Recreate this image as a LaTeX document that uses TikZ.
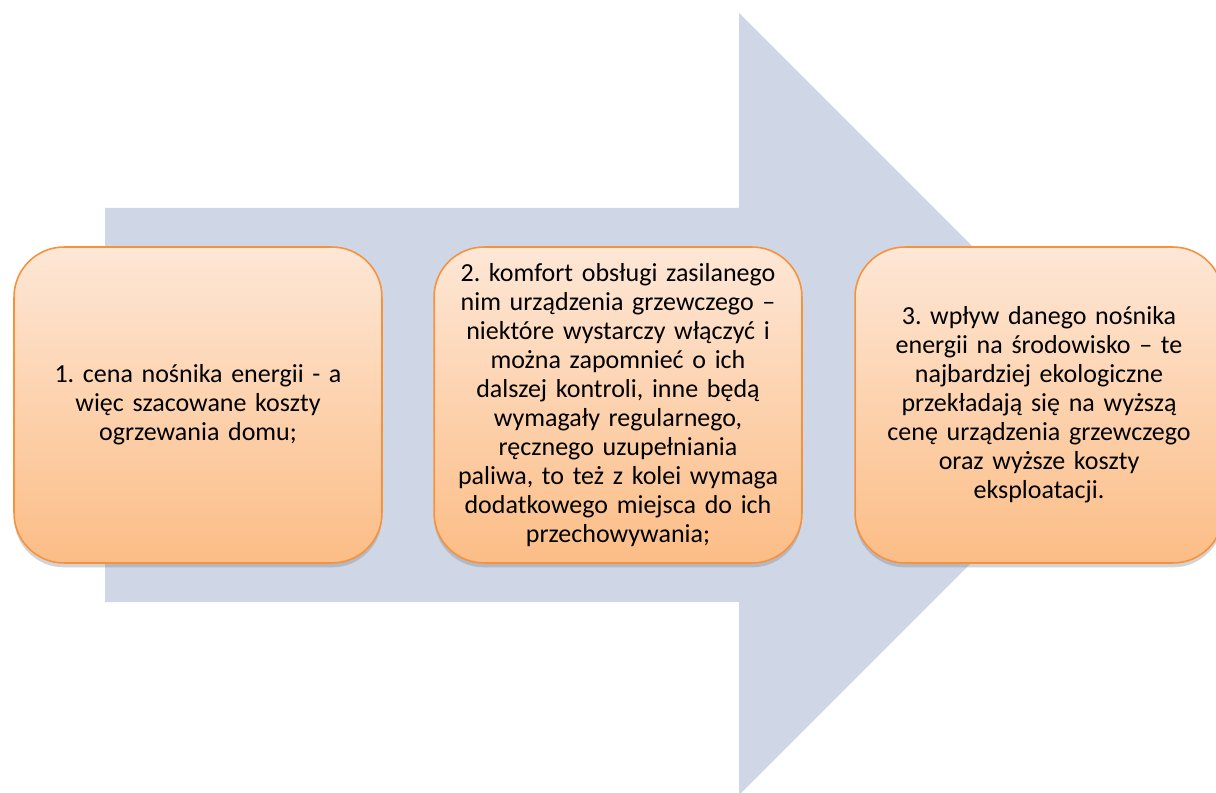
\documentclass[tikz,border=0pt]{standalone}
\usepackage{fontspec}
\setmainfont{Carlito}
\usepackage{tikz}
\usetikzlibrary{
    positioning,
    shadows
}
\frenchspacing
\definecolor{arrowFill}{RGB}{207,215,230}
\definecolor{boxTop}{RGB}{253,231,214}
\definecolor{boxBottom}{RGB}{252,189,134}
\definecolor{boxLine}{RGB}{246,146,62}
\tikzset{
  stepbox/.style = {draw=boxLine, line width=0.9pt, rounded corners=1.0cm,
                    top color=boxTop, bottom color=boxBottom,
                    minimum width=7.36cm, minimum height=6.32cm,
                    align=center, text width=7.0cm,
                    font=\fontsize{14.8}{16.5}\selectfont,
                    drop shadow={opacity=0.35, shadow xshift=0pt, shadow yshift=-2.5pt}}
}

\begin{document}
\begin{tikzpicture}[x=0.02cm, y=-0.02cm]

\clip (0,0) rectangle (1216,793);
\useasboundingbox (0,0) rectangle (1216,793);

% --- BIG ARROW ---
\fill[arrowFill] (105,208) -- (739,208) -- (739,13) -- (1130,404)
    -- (739,795) -- (739,602) -- (105,602) -- cycle;

% --- STEPS ---
\node[stepbox] (step1) at (198,405) {1. cena nośnika energii - a\\
    więc szacowane koszty\\ ogrzewania domu;};

\node[stepbox] (step2) at (618,405) {2. komfort obsługi zasilanego\\
    nim urządzenia grzewczego –\\ niektóre wystarczy włączyć i\\
    można zapomnieć o ich\\ dalszej kontroli, inne będą\\
    wymagały regularnego,\\ ręcznego uzupełniania\\
    paliwa, to też z kolei wymaga\\ dodatkowego miejsca do ich\\
    przechowywania;};

\node[stepbox] (step3) at (1039,405) {3. wpływ danego nośnika\\
    energii na środowisko – te\\ najbardziej ekologiczne\\
    przekładają się na wyższą\\ cenę urządzenia grzewczego\\
    oraz wyższe koszty\\ eksploatacji.};

\end{tikzpicture}
\end{document}
